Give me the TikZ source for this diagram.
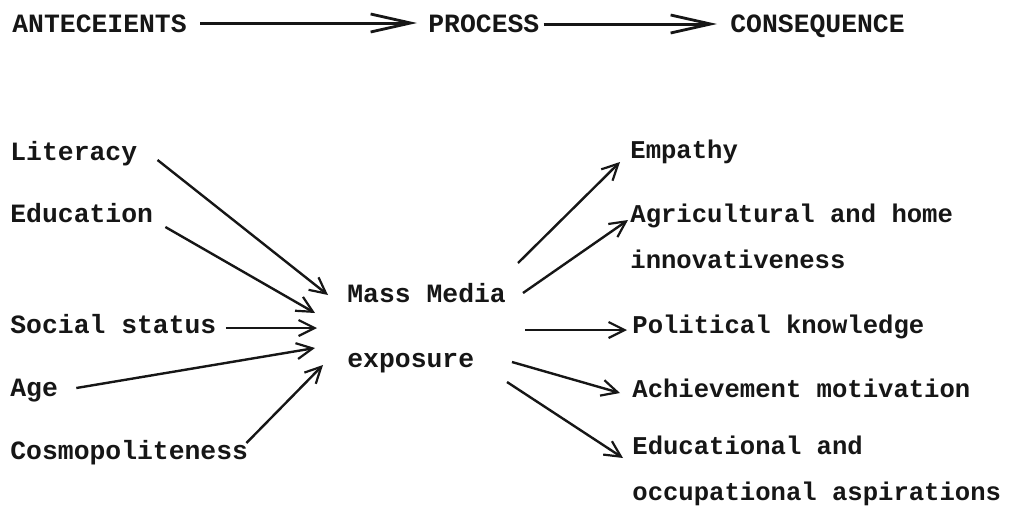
\documentclass[tikz,border=0pt]{standalone}
\usepackage{fontspec}
\usepackage{tikz}
\usetikzlibrary{arrows.meta,calc}
\newfontfamily\typew{Liberation Mono}
\definecolor{inkblack}{HTML}{161616}

\begin{document}
\begin{tikzpicture}[x=0.5pt,y=-0.5pt,font={\typew\bfseries\fontsize{13.2}{23}\selectfont},inkblack,
  lbl/.style={anchor=base west,inner sep=0pt,align=left},
  rlbl/.style={lbl,font={\typew\bfseries\fontsize{12.8}{23}\selectfont}},
  flow/.style={-{Straight Barb[length=20pt,width=9pt,line width=1.4pt]},line width=1.5pt},
  link/.style={-{Straight Barb[length=8pt,width=8pt,line width=1.1pt]},line width=1.2pt}]
  \useasboundingbox (0,0) rectangle (1017,515);
  % top row
  \node[lbl] (ante) at (12,32) {ANTECEIENTS};
  \node[lbl] (proc) at (428,32) {PROCESS};
  \node[lbl] (cons) at (730,32) {CONSEQUENCE};
  \draw[flow] ($(ante.base east)+(13,-9)$) -- ($(proc.base west)+(-11,-9)$);
  \draw[flow] ($(proc.base east)+(4,-8)$) -- ($(cons.base west)+(-13,-8)$);
  % antecedents
  \node[lbl] (lit) at (10,160) {Literacy};
  \node[lbl] (edu) at (10,222) {Education};
  \node[lbl] (soc) at (10,333) {Social status};
  \node[lbl] (age) at (10,396) {Age};
  \node[lbl] (cos) at (10,459) {Cosmopoliteness};
  % process (base = last line)
  \node[lbl] (media) at (347,367) {Mass Media\\[9.5pt]exposure};
  % consequences
  \node[rlbl] (emp) at (630,158) {Empathy};
  \node[rlbl] (agr) at (630,268) {Agricultural and home\\innovativeness};
  \node[rlbl] (pol) at (632,333) {Political knowledge};
  \node[rlbl] (ach) at (632,397) {Achievement motivation};
  \node[rlbl] (asp) at (632,500) {Educational and\\occupational aspirations};
  \foreach \src/\sx/\sy/\tx/\ty in {lit/20/0/-19/-72,edu/12/5/-32/-54,soc/9/-5/-30/-39,age/18/-8/-32/-19,cos/-2/-16/-24/-2}
    \draw[link] ($(\src.base east)+(\sx,\sy)$) -- ($(media.base west)+(\tx,\ty)$);
  \foreach \dst/\sx/\sy/\tx/\ty in {emp/171/-104/-10/4,agr/176/-74/-2/-48,pol/178/-37/-5/-3,ach/165/-5/-12/-4,asp/160/15/-9/-42}
    \draw[link] ($(media.base west)+(\sx,\sy)$) -- ($(\dst.base west)+(\tx,\ty)$);
\end{tikzpicture}
\end{document}
